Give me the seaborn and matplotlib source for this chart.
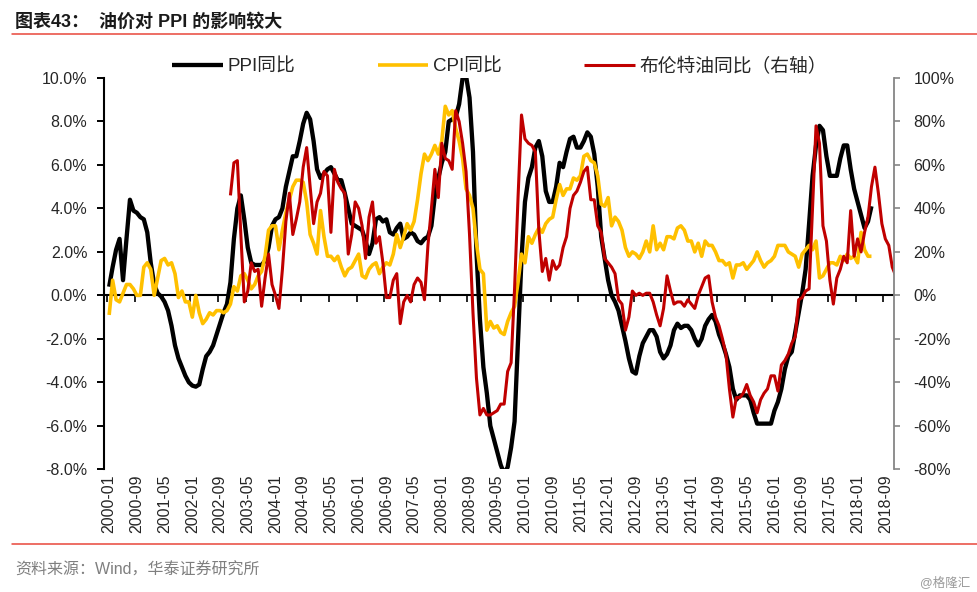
import numpy as np
import pandas as pd
import matplotlib
matplotlib.use("Agg")
import matplotlib.pyplot as plt
from matplotlib.lines import Line2D
import seaborn as sns

# monthly categories on the x axis
months = pd.period_range("2000-01", "2018-12", freq="M").strftime("%Y-%m").tolist()
tick_labels = months[::8]

# PPI YoY %, 2000-01 .. 2018-05
ppi = [0.4, 1.3, 2.1, 2.6, 0.7, 2.6, 4.4, 3.9, 3.8, 3.6, 3.5, 2.9,
       1.5, 0.5, 0.1, -0.05, -0.3, -0.7, -1.4, -2.3, -2.9, -3.3, -3.7, -4.0,
       -4.15, -4.2, -4.1, -3.4, -2.8, -2.6, -2.3, -1.8, -1.3, -0.8, -0.4, 0.6,
       2.6, 4.0, 4.6, 3.5, 2.2, 1.5, 1.4, 1.4, 1.4, 1.6, 2.2, 3.2,
       3.5, 3.6, 4.0, 5.0, 5.7, 6.4, 6.4, 7.1, 7.9, 8.4, 8.1, 7.1,
       5.8, 5.4, 5.6, 5.8, 5.9, 5.6, 5.3, 5.3, 4.7, 4.0, 3.3, 3.2,
       3.1, 3.0, 2.5, 1.9, 2.4, 3.5, 3.6, 3.4, 3.5, 2.9, 2.8, 3.1,
       3.3, 2.6, 2.7, 2.9, 2.8, 2.5, 2.4, 2.6, 2.7, 3.2, 4.6, 5.4,
       6.1, 6.6, 8.0, 8.1, 8.2, 8.8, 10.0, 10.1, 9.1, 6.6, 2.0, -1.1,
       -3.3, -4.5, -6.0, -6.6, -7.2, -7.8, -8.2, -7.9, -7.0, -5.8, -2.1, 1.7,
       4.3, 5.4, 5.9, 6.8, 7.1, 6.4, 4.8, 4.3, 4.3, 5.0, 6.1, 5.9,
       6.6, 7.2, 7.3, 6.8, 6.8, 7.1, 7.5, 7.3, 6.5, 5.0, 2.7, 1.7,
       0.7, 0.0, -0.3, -0.7, -1.4, -2.1, -2.9, -3.5, -3.6, -2.8, -2.2, -1.9,
       -1.6, -1.6, -1.9, -2.6, -2.9, -2.7, -2.3, -1.6, -1.3, -1.5, -1.4, -1.4,
       -1.6, -2.0, -2.3, -2.0, -1.4, -1.1, -0.9, -1.2, -1.8, -2.2, -2.7, -3.3,
       -4.3, -4.8, -4.6, -4.6, -4.6, -4.8, -5.4, -5.9, -5.9, -5.9, -5.9, -5.9,
       -5.3, -4.9, -4.3, -3.4, -2.8, -2.6, -1.7, -0.8, 0.1, 1.2, 3.3, 5.5,
       6.9, 7.8, 7.6, 6.4, 5.5, 5.5, 5.5, 6.3, 6.9, 6.9, 5.8, 4.9,
       4.3, 3.7, 3.1, 3.4, 4.1]

# CPI YoY %, 2000-01 .. 2018-05
cpi = [-0.9, 0.7, -0.2, -0.3, 0.1, 0.5, 0.5, 0.3, 0.0, 0.0, 1.3, 1.5,
       1.2, 0.0, 0.8, 1.6, 1.7, 1.4, 1.5, 1.0, -0.1, 0.2, -0.3, -0.3,
       -1.0, 0.0, -0.8, -1.3, -1.1, -0.8, -0.9, -0.7, -0.7, -0.8, -0.7, -0.4,
       0.4, 0.2, 0.9, 1.0, 0.7, 0.3, 0.5, 0.9, 1.1, 1.8, 3.0, 3.2,
       3.2, 2.1, 3.0, 3.8, 4.4, 5.0, 5.3, 5.3, 5.2, 4.3, 2.8, 2.4,
       1.9, 3.9, 2.7, 1.8, 1.8, 1.6, 1.8, 1.3, 0.9, 1.2, 1.3, 1.6,
       1.9, 0.9, 0.8, 1.2, 1.4, 1.5, 1.0, 1.3, 1.5, 1.4, 1.9, 2.8,
       2.2, 2.7, 3.3, 3.0, 3.4, 4.4, 5.6, 6.5, 6.2, 6.5, 6.9, 6.5,
       7.1, 8.7, 8.3, 8.5, 7.7, 7.1, 6.3, 4.9, 4.6, 4.0, 2.4, 1.2,
       1.0, -1.6, -1.2, -1.5, -1.4, -1.7, -1.8, -1.2, -0.8, -0.5, 0.6, 1.9,
       1.5, 2.7, 2.4, 2.8, 3.1, 2.9, 3.3, 3.5, 3.6, 4.4, 5.1, 4.6,
       4.9, 4.9, 5.4, 5.3, 5.5, 6.4, 6.5, 6.2, 6.1, 5.5, 4.2, 4.1,
       4.5, 3.2, 3.6, 3.4, 3.0, 2.2, 1.8, 2.0, 1.9, 1.7, 2.0, 2.5,
       2.0, 3.2, 2.1, 2.4, 2.1, 2.7, 2.7, 2.6, 3.1, 3.2, 3.0, 2.5,
       2.5, 2.0, 2.4, 1.8, 2.5, 2.3, 2.3, 2.0, 1.6, 1.6, 1.4, 1.5,
       0.8, 1.4, 1.4, 1.5, 1.2, 1.4, 1.6, 2.0, 1.6, 1.3, 1.5, 1.6,
       1.8, 2.3, 2.3, 2.3, 2.0, 1.9, 1.8, 1.3, 1.9, 2.1, 2.3, 2.1,
       2.5, 0.8, 0.9, 1.2, 1.5, 1.5, 1.4, 1.8, 1.6, 1.9, 1.7, 1.8,
       1.5, 2.9, 2.1, 1.8, 1.8]

# Brent YoY % (right axis), 2002-12 .. 2018-12
brent_start = "2002-12"
brent = [46,
         61, 62, 28, -3, 2, 15, 11, 12, -5, 8, 19, 5,
         0, -6, 12, 34, 47, 28, 35, 43, 59, 68, 50, 33,
         43, 47, 57, 55, 29, 58, 52, 49, 47, 19, 28, 43,
         40, 32, 17, 36, 43, 24, 27, 15, -1, -1, 7, 10,
         -13, -3, 0, -3, 5, 8, 6, -2, 23, 40, 58, 45,
         70, 63, 62, 58, 85, 80, 70, 57, 28, -8, -38, -55,
         -52, -55, -55, -54, -53, -50, -50, -35, -31, 3, 45, 83,
         72, 70, 69, 66, 30, 11, 17, 7, 16, 12, 14, 22,
         27, 40, 46, 48, 52, 57, 59, 44, 44, 32, 29, 17,
         15, 13, 10, -2, -4, -16, -10, 2, 0, 1, 0, 1,
         1, -3, -9, -14, -6, 9, 2, -4, -3, -3, -5, -2,
         -4, -6, 0, 4, 8, 9, -3, -10, -14, -20, -27, -43,
         -56, -47, -47, -45, -41, -46, -49, -54, -48, -45, -43, -37,
         -37, -44, -32, -30, -27, -22, -19, -2, -1, 2, 3, 40,
         78, 70, 32, 25, 7, -4, 8, 12, 18, 15, 39, 18,
         26, 20, 29, 36, 50, 59, 47, 33, 26, 23, 13, 9]

left_ticks = np.arange(-8, 10.1, 2)
right_ticks = np.arange(-80, 101, 20)

sns.set_theme(style="white")
plt.rcParams["font.family"] = ["Liberation Sans", "Noto Sans CJK SC"]
plt.rcParams["axes.unicode_minus"] = False

pos = {m: i for i, m in enumerate(months)}
ppi_df = pd.DataFrame({"x": [pos[m] for m in months[:len(ppi)]], "y": ppi})
cpi_df = pd.DataFrame({"x": [pos[m] for m in months[:len(cpi)]], "y": cpi})
b0 = pos[brent_start]
brent_df = pd.DataFrame({"x": [pos[m] for m in months[b0:b0 + len(brent)]], "y": brent})

fig = plt.figure(figsize=(9.78, 5.92), dpi=100)
ax = fig.add_axes([0.1063, 0.2073, 0.8078, 0.6609])
ax2 = ax.twinx()

line_kw = dict(solid_joinstyle="round", solid_capstyle="butt")
sns.lineplot(data=ppi_df, x="x", y="y", ax=ax, color="black", lw=3.1, label="PPI同比", **line_kw)
sns.lineplot(data=cpi_df, x="x", y="y", ax=ax, color="#FFC000", lw=2.6, label="CPI同比", **line_kw)
sns.lineplot(data=brent_df, x="x", y="y", ax=ax2, color="#C00000", lw=2.2,
             label="布伦特油同比（右轴）", **line_kw)

ax.set_xlim(-1.5, len(months) - 1.5)
ax.set_ylim(-8, 10)
ax2.set_ylim(-80, 100)

# left axis
ax.set_yticks(left_ticks)
ax.set_yticklabels([f"{v:.1f}%" for v in left_ticks])
ax.tick_params(axis="y", direction="out", length=5, width=1.4, color="black",
               labelsize=11.5, labelcolor="#262626", pad=7)
for s in ["top", "right", "bottom"]:
    ax.spines[s].set_visible(False)
ax.spines["left"].set_color("black")
ax.spines["left"].set_linewidth(1.5)

# bottom labels (category axis, labels low)
ax.set_xticks([pos[m] for m in tick_labels])
ax.set_xticklabels(tick_labels, rotation=90)
ax.tick_params(axis="x", length=0, labelsize=11.5, labelcolor="#262626", pad=4)
ax.set_xlabel("")
ax.set_ylabel("")

# zero line with tick marks
zero = ax.secondary_xaxis(8 / 18)
zero.set_xticks([pos[m] - 0.6 for m in tick_labels])
zero.tick_params(axis="x", direction="out", length=5, width=1.2, color="black",
                 labelbottom=False, labeltop=False)
zero.spines["bottom"].set_color("black")
zero.spines["bottom"].set_linewidth(1.5)

# right axis
ax2.set_yticks(right_ticks)
ax2.set_yticklabels([f"{v:.0f}%" for v in right_ticks])
ax2.tick_params(axis="y", direction="out", length=4, width=1.2, color="#868686",
                labelsize=11.5, labelcolor="#262626", pad=10)
for s in ["top", "left", "bottom"]:
    ax2.spines[s].set_visible(False)
ax2.spines["right"].set_color("#868686")
ax2.spines["right"].set_linewidth(1.3)
ax2.set_ylabel("")

h1, l1 = ax.get_legend_handles_labels()
h2, l2 = ax2.get_legend_handles_labels()
ax.get_legend().remove()
ax2.get_legend().remove()
fig.legend(h1 + h2, l1 + l2, loc="center left", bbox_to_anchor=(172 / 978, 1 - 67 / 592),
           ncol=3, frameon=False, fontsize=13.5, handlelength=2.7, handletextpad=0.25,
           columnspacing=4.4, borderpad=0, borderaxespad=0)

# header / footer
fig.text(15 / 978, 1 - 21.5 / 592, "图表43：  油价对 PPI 的影响较大", fontsize=13,
         fontweight="bold", va="center", ha="left", color="#1a1a1a")
fig.add_artist(Line2D([12 / 978, 1.0], [1 - 34 / 592] * 2, color="#E8473A", lw=1.1))
fig.add_artist(Line2D([12 / 978, 1.0], [1 - 544 / 592] * 2, color="#E8473A", lw=1.1))
fig.text(15 / 978, 1 - 570 / 592, "资料来源：Wind，华泰证券研究所", fontsize=11.5,
         va="center", ha="left", color="#7f7f7f")
fig.text(970 / 978, 1 - 583 / 592, "@格隆汇", fontsize=9, va="center", ha="right",
         color="#9a9a9a")

fig.savefig("out.png", dpi=100)
